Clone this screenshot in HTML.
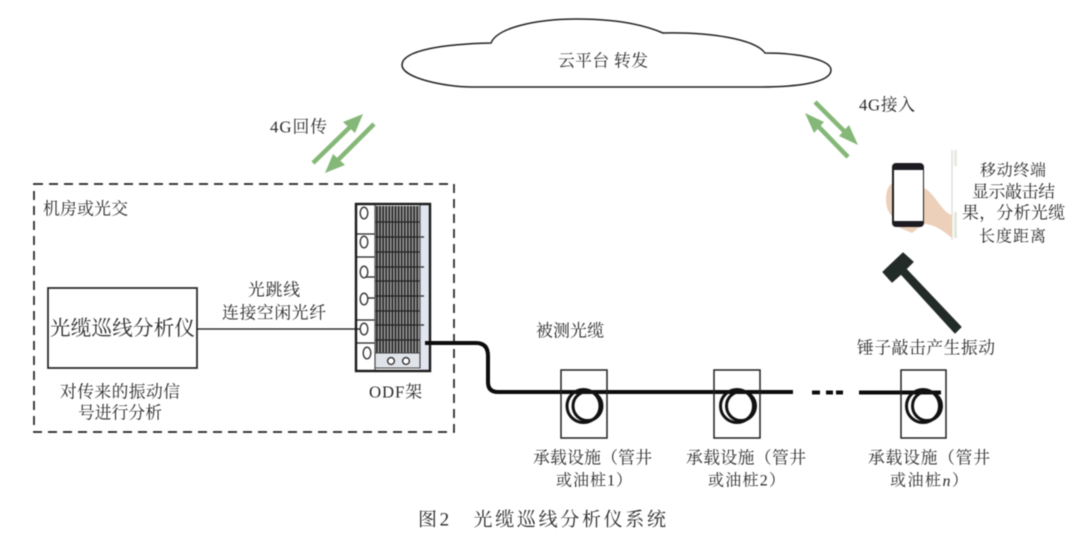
<!DOCTYPE html>
<html lang="zh"><head><meta charset="utf-8"><style>
html,body{margin:0;padding:0;background:#fff}
svg{display:block;filter:blur(.45px)}
text{font-family:"Liberation Serif","Noto Serif CJK SC",serif;font-size:16.800px;fill:#2a2a2a;dominant-baseline:central}
</style></head><body>
<svg width="1080" height="553" viewBox="0 0 1080 553" xmlns="http://www.w3.org/2000/svg">
<defs>
<pattern id="st" width="3.1" height="10" patternUnits="userSpaceOnUse" x="376"><rect width="2" height="10" fill="#2b2b2b"/><rect x="2" width="1.1" height="10" fill="#aaa"/></pattern>
</defs>
<rect width="1080" height="553" fill="#fff"/>

<!-- cloud -->
<path d="M491 43C445 44 402 50 402 65C402 78 445 87 472 87L760 87C795 87 831 83 831 70C831 60 800 53 765 53C755 39 710 32 663 33C640 23 610 19 577 19C535 19 497 28 491 43Z" fill="#fff" stroke="#222" stroke-width="1.5"/>
<text x="558" y="61" textLength="90">云平台 转发</text>

<!-- green arrows -->
<g stroke="#85b878" stroke-width="4.500" fill="none">
<line x1="313" y1="163" x2="350" y2="127"/><line x1="374" y1="124" x2="338" y2="160"/>
<line x1="815" y1="102" x2="846" y2="133"/><line x1="848" y1="157" x2="817" y2="125"/>
</g>
<g fill="#85b878">
<path d="M363 114L355 133L343 122Z"/><path d="M325 173L333 154L345 165Z"/>
<path d="M858 145L839 136L849 125Z"/><path d="M805 113L824 122L814 133Z"/>
</g>
<text x="270" y="127" textLength="57">4G回传</text>
<text x="859" y="105" textLength="56">4G接入</text>

<!-- dashed room -->
<rect x="34" y="184" width="420" height="248" fill="none" stroke="#222" stroke-width="1.700" stroke-dasharray="9 6"/>
<text x="43" y="209" textLength="85">机房或光交</text>

<!-- analyzer -->
<rect x="48" y="288" width="149" height="80" fill="#fff" stroke="#222" stroke-width="1.700"/>
<text x="50" y="329" textLength="145" style="font-size:20.500px">光缆巡线分析仪</text>
<line x1="197" y1="329" x2="362" y2="329" stroke="#111" stroke-width="1.300"/>
<text x="248" y="290" textLength="52">光跳线</text>
<text x="222" y="313" textLength="104">连接空闲光纤</text>
<text x="60" y="392" textLength="120">对传来的振动信</text>
<text x="78" y="413" textLength="84">号进行分析</text>

<!-- ODF -->
<rect x="420" y="204" width="10" height="167" fill="#e1e5f0"/>
<rect x="375" y="206" width="45" height="147" fill="url(#st)"/>
<rect x="375" y="353" width="45" height="15" fill="#dfe3ea"/>
<g stroke="#222" stroke-width="1.300">
<line x1="375" y1="222" x2="420" y2="222"/><line x1="375" y1="237" x2="424" y2="237"/>
<line x1="375" y1="252" x2="420" y2="252"/><line x1="375" y1="267" x2="424" y2="267"/>
<line x1="375" y1="281" x2="420" y2="281"/><line x1="375" y1="296" x2="424" y2="296"/>
<line x1="375" y1="311" x2="420" y2="311"/><line x1="375" y1="325" x2="424" y2="325"/>
<line x1="375" y1="340" x2="420" y2="340"/>
<line x1="356" y1="234" x2="375" y2="234"/><line x1="356" y1="257" x2="375" y2="257"/>
<line x1="364" y1="277" x2="375" y2="277"/><line x1="364" y1="298" x2="375" y2="298"/>
<line x1="356" y1="320" x2="375" y2="320"/><line x1="356" y1="343" x2="375" y2="343"/>
</g>
<line x1="375" y1="205" x2="375" y2="370" stroke="#555" stroke-width="1.2"/>
<line x1="420" y1="205" x2="420" y2="368" stroke="#555" stroke-width="1.2"/>
<rect x="375" y="353" width="45" height="15" fill="none" stroke="#444" stroke-width="1"/>
<g fill="#fff" stroke="#333" stroke-width="1.4">
<ellipse cx="364" cy="213" rx="3.800" ry="5.800"/><ellipse cx="364" cy="242" rx="3.800" ry="5.800"/>
<ellipse cx="364" cy="272" rx="3.800" ry="5.800"/><ellipse cx="364" cy="299" rx="3.800" ry="5.800"/>
<ellipse cx="364" cy="329" rx="3.800" ry="5.800"/><ellipse cx="367" cy="353" rx="3.800" ry="5.800"/>
<circle cx="391" cy="361" r="3.400"/><circle cx="406" cy="361" r="3.400"/>
</g>
<rect x="356" y="204" width="74" height="167" fill="none" stroke="#1a1a1a" stroke-width="2.400"/>
<text x="369" y="392" textLength="53">ODF架</text>

<!-- fibre -->
<path d="M425 343L476 343Q488 343 488 356L488 382Q488 392 498 392L793 392" fill="none" stroke="#0c0c0c" stroke-width="4"/>
<path d="M859 392.500L941 392.500" stroke="#0c0c0c" stroke-width="4"/>
<path d="M812 392.500h8M826 392.500h7M836 392.500h7" stroke="#0c0c0c" stroke-width="4"/>

<!-- boxes -->
<g fill="none" stroke="#222" stroke-width="1.500">
<rect x="561" y="370" width="46" height="68"/><rect x="714" y="370" width="46" height="68"/><rect x="901" y="370" width="45" height="68"/>
</g>
<g fill="none" stroke="#111" stroke-width="3">
<circle cx="583.500" cy="406" r="16.500"/><circle cx="587.500" cy="406" r="14.500"/>
<circle cx="737" cy="406" r="16.500"/><circle cx="741" cy="406" r="14.500"/>
<circle cx="923" cy="406" r="16.500"/><circle cx="927" cy="406" r="14.500"/>
</g>
<text x="536" y="331" textLength="68">被测光缆</text>
<text x="533" y="458" textLength="119">承载设施（管井</text>
<text x="556" y="481" textLength="76" style="font-size:16px">或油桩1）</text>
<text x="686" y="458" textLength="120">承载设施（管井</text>
<text x="708" y="481" textLength="77" style="font-size:16px">或油桩2）</text>
<text x="868" y="458" textLength="122">承载设施（管井</text>
<text x="890" y="481" textLength="78" style="font-size:16px">或油桩<tspan font-style="italic">n</tspan>）</text>

<!-- phone & hand -->
<line x1="952" y1="150" x2="952" y2="240" stroke="#d8dcd4" stroke-width="1.2"/>
<rect x="954" y="150" width="3" height="16" fill="#e6eae0"/><rect x="954" y="212" width="3" height="26" fill="#e3e8dc"/>
<path d="M893 183C884 186 883 212 894 217L900 228L912 233L923 224C930 224 938 226 952 238L952 215C943 213 936 196 926 189L922 188Z" fill="#ecd0ba"/>
<rect x="892" y="163" width="32" height="64" rx="4" fill="#1e1a22"/>
<rect x="894" y="170" width="29" height="51" fill="#fff"/>
<text x="980" y="171" textLength="66" style="font-size:16px">移动终端</text>
<text x="972" y="192" textLength="83">显示敲击结</text>
<text x="962" y="213" textLength="103">果，分析光缆</text>
<text x="979" y="237" textLength="67" style="font-size:16px">长度距离</text>

<!-- hammer -->
<path d="M883 272L903 253L913 262L906 269L961 327L955 333L901 274L892 282Z" fill="#222b28" stroke="#222b28" stroke-width="1.200" stroke-linejoin="round"/>
<text x="857" y="348" textLength="138">锤子敲击产生振动</text>

<!-- caption -->
<text x="418" y="520" textLength="248" style="font-size:19px">图2　光缆巡线分析仪系统</text>
</svg>
</body></html>
